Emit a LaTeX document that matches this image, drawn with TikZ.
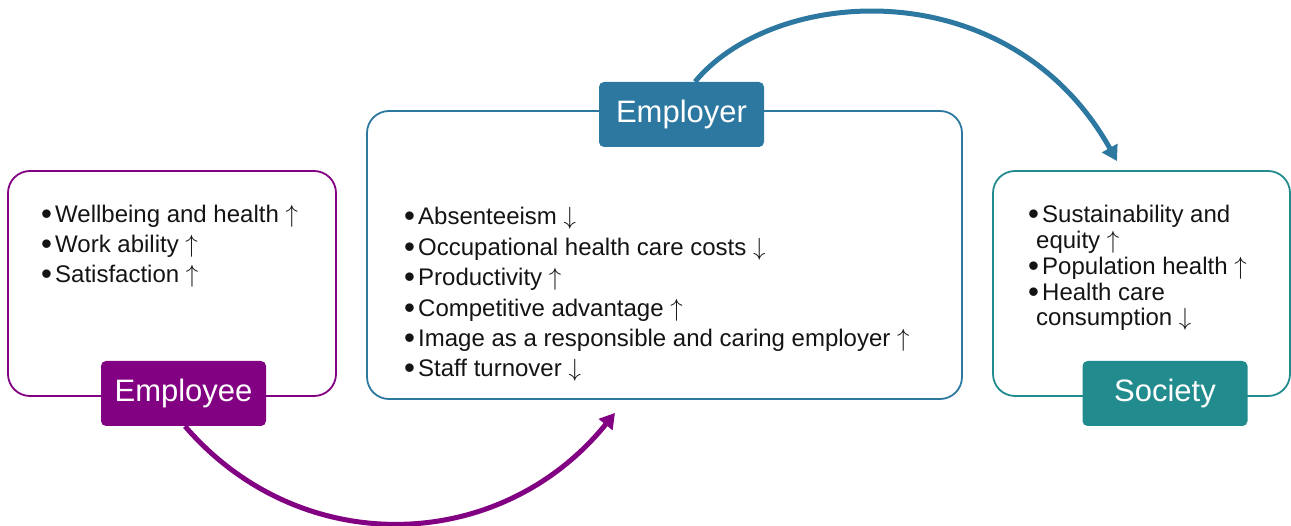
\documentclass[tikz,border=0pt]{standalone}
\usepackage{fontspec}
\setmainfont{Liberation Sans}
\usetikzlibrary{arrows.meta,calc}
\definecolor{empurple}{RGB}{130,0,130}
\definecolor{emblue}{RGB}{44,120,160}
\definecolor{emteal}{RGB}{34,139,142}
\definecolor{txtc}{RGB}{20,20,20}
\newcommand{\bul}{\makebox[14pt][l]{\raisebox{-2pt}{\scalebox{1.3}{•}}}}
\newcommand{\upa}{\ensuremath{\uparrow}}
\newcommand{\dna}{\ensuremath{\downarrow}}
\begin{document}
\begin{tikzpicture}[x=1pt,y=-1pt,
  box/.style={draw, line width=1.8pt, rounded corners=22pt, inner sep=0pt},
  lab/.style={rounded corners=5pt, minimum width=165pt, minimum height=65pt, inner sep=0pt, text=white, font=\fontsize{31}{36}\selectfont},
  txt/.style={anchor=base west, inner sep=0pt, font=\fontsize{24}{29}\selectfont, text=txtc},
  conn/.style={line width=5pt, -{Triangle[length=15pt,width=17pt]}}]
\useasboundingbox (0,0) rectangle (1291,526);
% boxes
\node[box, draw=empurple, minimum width=328pt, minimum height=225pt] (employee) at (172,283.5) {};
\node[box, draw=emblue, minimum width=595pt, minimum height=288pt] (employer) at (664.5,255) {};
\node[box, draw=emteal, minimum width=297pt, minimum height=225pt] (society) at (1141.5,283.5) {};
% labels
\node[lab, fill=empurple] (emplab) at (183.5,393.5) {Employee};
\node[lab, fill=emblue] (employerlab) at (681.5,114.5) {Employer};
\node[lab, fill=emteal] (soclab) at (1165,393.5) {Society};
% employee text
\node[txt] (e1) at (41,223) {\bul Wellbeing and health \upa};
\node[txt] (e2) at (41,253) {\bul Work ability \upa};
\node[txt] (e3) at (41,283) {\bul Satisfaction \upa};
% employer text
\node[txt] (r1) at (404,225) {\bul Absenteeism \dna};
\node[txt] (r2) at (404,255.4) {\bul Occupational health care costs \dna};
\node[txt] (r3) at (404,285.8) {\bul Productivity \upa};
\node[txt] (r4) at (404,316.2) {\bul Competitive advantage \upa};
\node[txt] (r5) at (404,346.6) {\bul Image as a responsible and caring employer \upa};
\node[txt] (r6) at (404,377) {\bul Staff turnover \dna};
% society text
\node[txt] (s1) at (1028,223) {\bul Sustainability and};
\node[txt] (s2) at (1036,249) {equity \upa};
\node[txt] (s3) at (1028,275) {\bul Population health \upa};
\node[txt] (s4) at (1028,300.5) {\bul Health care};
\node[txt] (s5) at (1036,326) {consumption \dna};
% connectors
\coordinate (ptip) at ([xshift=-49.5pt,yshift=-13pt]employer.south);
\coordinate (btip) at ([xshift=-24.5pt,yshift=9pt]society.north);
\draw[conn, draw=empurple] ([xshift=1.5pt]emplab.south) .. controls (300,560) and (500,555) .. (ptip);
\draw[conn, draw=emblue] ([xshift=13.5pt]employerlab.north) .. controls (775,-15) and (1010,-30) .. (btip);
\end{tikzpicture}
\end{document}
